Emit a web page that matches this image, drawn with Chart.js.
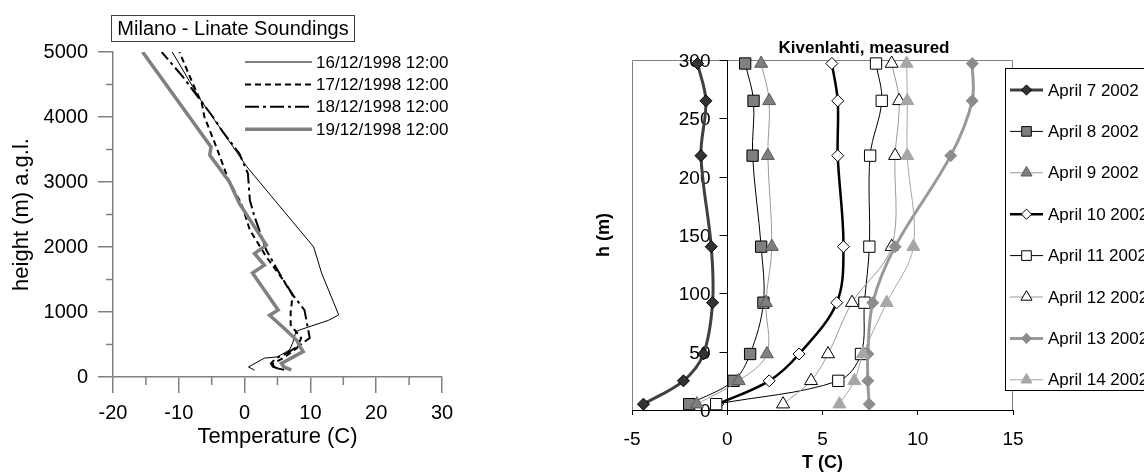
<!DOCTYPE html>
<html lang="en">
<head>
<meta charset="UTF-8">
<title>Temperature profiles</title>
<style>
    body { margin: 0; background: #fff; }
    #wrap { position: relative; width: 1144px; height: 474px; overflow: hidden; }
    canvas { position: absolute; top: 0; }
    #milano { left: 0; }
    #kiven { left: 500px; }
</style>
</head>
<body>
<div id="wrap">
    <canvas id="milano" width="500" height="474"></canvas>
    <canvas id="kiven" width="644" height="474"></canvas>
</div>
<script src="https://cdn.jsdelivr.net/npm/chart.js"></script>
<script>
// ---------- Milano - Linate soundings ----------
const soundingLabels = ['16/12/1998 12:00', '17/12/1998 12:00', '18/12/1998 12:00', '19/12/1998 12:00'];

const h16 = [105, 155, 290, 310, 415, 520, 700, 725, 870, 955, 1600, 2000, 3240, 4280, 5000];
const t16 = [1.5, 0.6, 3.0, 5.0, 6.8, 7.3, 7.8, 8.4, 12.7, 14.3, 11.7, 10.5, 0.3, -6.8, -11.0];

const h17 = [110, 140, 200, 300, 450, 600, 800, 1000, 1260, 1500, 1850, 2260, 2670, 3000, 3130, 3540, 4000, 4210, 4520, 5000];
const t17 = [6.0, 4.6, 4.2, 6.0, 8.0, 8.6, 7.0, 7.0, 7.3, 5.8, 3.3, 0.8, -0.5, -2.3, -2.8, -4.3, -6.1, -6.5, -7.9, -9.9];

const h18 = [130, 160, 210, 290, 360, 490, 600, 1030, 1260, 1540, 1950, 2470, 2720, 3130, 3440, 3770, 4000, 4620, 5000];
const t18 = [5.1, 4.3, 4.0, 4.8, 6.3, 8.4, 9.9, 9.1, 7.35, 5.6, 3.3, 1.5, 0.8, 0.5, -0.8, -3.3, -4.8, -9.4, -12.6];

const h19 = [108, 150, 210, 390, 470, 570, 770, 950, 1030, 1600, 1720, 1900, 2030, 2670, 3000, 3415, 3540, 5000];
const t19 = [7.1, 6.0, 5.6, 8.9, 8.4, 7.9, 5.8, 3.8, 5.1, 1.2, 3.0, 1.5, 3.3, -0.8, -2.3, -5.3, -5.1, -15.5];

const minorTempTicks = [-15, -5, 5, 15, 25];
const minorHeightTicks = [500, 1500, 2500, 3500, 4500];

// ---------- Kivenlahti mast ----------
const aprilLabels = ['April 7 2002', 'April 8 2002', 'April 9 2002', 'April 10 2002',
                     'April 11 2002', 'April 12 2002', 'April 13 2002', 'April 14 2002'];
const mastHeights = [5, 25, 48, 92, 140, 218, 265, 297];
const apr7  = [-4.4, -2.3, -1.25, -0.77, -0.84, -1.38, -1.12, -1.56];
const apr8  = [-2.0, 0.33, 1.2, 1.9, 1.78, 1.33, 1.38, 0.94];
const apr9  = [-1.6, 0.6, 2.08, 2.03, 2.34, 2.13, 2.2, 1.78];
const apr10 = [-0.5, 2.2, 3.77, 5.75, 6.1, 5.8, 5.8, 5.49];
const apr11 = [-0.58, 5.83, 7.02, 7.2, 7.46, 7.5, 8.11, 7.81];
const apr12 = [2.93, 4.4, 5.29, 6.55, 8.63, 8.81, 9.02, 8.63];
const apr13 = [7.45, 7.38, 7.38, 7.64, 8.81, 11.73, 12.86, 12.86];
const apr14 = [5.89, 6.67, 7.12, 8.37, 9.77, 9.45, 9.45, 9.42];
const mastTicks = [0, 50, 100, 150, 200, 250, 300];

Chart.defaults.font.family = 'Arial, "Liberation Sans", sans-serif';
Chart.defaults.color = '#000';

function pairs(temps, heights) {
    return temps.map((t, i) => ({ x: t, y: heights[i] }));
}

// ---------- left chart ----------
const soundingStyles = [
    { color: '#000', width: 1, dash: [] },
    { color: '#000', width: 2, dash: [6, 4] },
    { color: '#000', width: 2, dash: [14, 4, 3, 4] },
    { color: '#808080', width: 3.5, dash: [] }
];
const soundingData = [pairs(t16, h16), pairs(t17, h17), pairs(t18, h18), pairs(t19, h19)];

const milanoExtras = {
    id: 'milanoExtras',
    afterDraw(chart) {
        const ctx = chart.ctx;
        const xs = chart.scales.x, ys = chart.scales.y;
        const area = chart.chartArea;
        ctx.save();
        // minor ticks
        ctx.strokeStyle = '#808080';
        ctx.lineWidth = 1.5;
        minorTempTicks.forEach(v => {
            const px = xs.getPixelForValue(v);
            ctx.beginPath(); ctx.moveTo(px, area.bottom); ctx.lineTo(px, area.bottom + 8); ctx.stroke();
        });
        minorHeightTicks.forEach(v => {
            const py = ys.getPixelForValue(v);
            ctx.beginPath(); ctx.moveTo(area.left - 7, py); ctx.lineTo(area.left, py); ctx.stroke();
        });
        // title box
        ctx.strokeStyle = '#404040';
        ctx.lineWidth = 1;
        ctx.fillStyle = '#fff';
        ctx.fillRect(111.5, 15.5, 243, 26);
        ctx.strokeRect(111.5, 15.5, 243, 26);
        ctx.fillStyle = '#000';
        ctx.font = '20px Arial, "Liberation Sans", sans-serif';
        ctx.textAlign = 'center';
        ctx.textBaseline = 'middle';
        ctx.fillText('Milano - Linate Soundings', 233, 29);
        // legend
        ctx.font = '17px Arial, "Liberation Sans", sans-serif';
        ctx.textAlign = 'left';
        chart.data.datasets.forEach((ds, i) => {
            const y = 62 + i * 22.4;
            ctx.strokeStyle = ds.borderColor;
            ctx.lineWidth = ds.borderWidth;
            ctx.setLineDash(ds.borderDash);
            ctx.beginPath(); ctx.moveTo(245, y); ctx.lineTo(312, y); ctx.stroke();
            ctx.setLineDash([]);
            ctx.fillText(ds.label, 316, y + 1);
        });
        ctx.restore();
    }
};

new Chart(document.getElementById('milano'), {
    type: 'scatter',
    data: {
        datasets: soundingData.map((d, i) => ({
            label: soundingLabels[i],
            data: d,
            showLine: true,
            borderColor: soundingStyles[i].color,
            borderWidth: soundingStyles[i].width,
            borderDash: soundingStyles[i].dash,
            pointRadius: 0,
            tension: 0,
            order: 4 - i
        }))
    },
    options: {
        responsive: false,
        animation: false,
        layout: { padding: { left: 0, top: 52, right: 58, bottom: 0 } },
        plugins: { legend: { display: false }, tooltip: { enabled: false } },
        scales: {
            x: {
                type: 'linear', min: -20, max: 30,
                ticks: { stepSize: 10, font: { size: 20 }, padding: 8, color: '#000', callback: v => String(v) },
                grid: { drawOnChartArea: false, tickLength: 16, color: '#808080', lineWidth: 1.5 },
                border: { color: '#808080', width: 1.5 },
                title: { display: true, text: 'Temperature (C)', font: { size: 22 }, color: '#000', padding: { top: 0, bottom: 24 } },
                afterFit: s => { s.height = 97; }
            },
            y: {
                type: 'linear', min: 0, max: 5000,
                ticks: { stepSize: 1000, font: { size: 20 }, padding: 10, color: '#000', callback: v => String(v) },
                grid: { drawOnChartArea: false, tickLength: 15, color: '#808080', lineWidth: 1.5 },
                border: { color: '#808080', width: 1.5 },
                title: { display: true, text: 'height (m) a.g.l.', font: { size: 22 }, color: '#000', padding: { top: 9, bottom: 0 } },
                afterFit: s => { s.width = 113; }
            }
        }
    },
    plugins: [milanoExtras]
});

// ---------- right chart ----------
const aprilSeries = [apr7, apr8, apr9, apr10, apr11, apr12, apr13, apr14];
const aprilStyles = [
    { line: '#404040', width: 3, shape: 'rectRot', r: 6, fill: '#333333', border: '#000' },
    { line: '#000', width: 1, shape: 'rect', r: 8, fill: '#808080', border: '#000' },
    { line: '#999999', width: 1, shape: 'triangle', r: 7.5, fill: '#7f7f7f', border: '#595959' },
    { line: '#000', width: 2.5, shape: 'rectRot', r: 6, fill: '#fff', border: '#000' },
    { line: '#000', width: 1, shape: 'rect', r: 8, fill: '#fff', border: '#000' },
    { line: '#999999', width: 1, shape: 'triangle', r: 7.5, fill: '#fff', border: '#000' },
    { line: '#999999', width: 3, shape: 'rectRot', r: 6, fill: '#8c8c8c', border: '#8c8c8c' },
    { line: '#a6a6a6', width: 1, shape: 'triangle', r: 7.5, fill: '#a6a6a6', border: '#a6a6a6' }
];

function drawMarker(ctx, st, x, y, k) {
    const r = st.r * k;
    ctx.beginPath();
    if (st.shape === 'rectRot') {
        ctx.moveTo(x, y - r); ctx.lineTo(x + r, y); ctx.lineTo(x, y + r); ctx.lineTo(x - r, y);
    } else if (st.shape === 'rect') {
        const s = r * Math.SQRT1_2;
        ctx.rect(x - s, y - s, 2 * s, 2 * s);
    } else {
        ctx.moveTo(x, y - r);
        ctx.lineTo(x + r * 0.866, y + r * 0.5);
        ctx.lineTo(x - r * 0.866, y + r * 0.5);
    }
    ctx.closePath();
    ctx.fillStyle = st.fill;
    ctx.strokeStyle = st.border;
    ctx.lineWidth = 1;
    ctx.fill();
    ctx.stroke();
}

const kivenBack = {
    id: 'kivenBack',
    beforeDatasetsDraw(chart) {
        const ctx = chart.ctx;
        const xs = chart.scales.x, ys = chart.scales.y;
        const a = chart.chartArea;
        ctx.save();
        // plot frame
        ctx.strokeStyle = '#808080';
        ctx.lineWidth = 1;
        ctx.beginPath();
        ctx.moveTo(a.left + 0.5, a.bottom); ctx.lineTo(a.left + 0.5, a.top + 0.5);
        ctx.lineTo(a.right - 0.5, a.top + 0.5); ctx.lineTo(a.right - 0.5, a.bottom);
        ctx.stroke();
        // y axis crossing at T = 0
        const x0 = Math.round(xs.getPixelForValue(0)) + 0.5;
        ctx.strokeStyle = '#000';
        ctx.beginPath(); ctx.moveTo(x0, a.top); ctx.lineTo(x0, a.bottom); ctx.stroke();
        ctx.font = '19px Arial, "Liberation Sans", sans-serif';
        ctx.fillStyle = '#000';
        ctx.textAlign = 'right';
        ctx.textBaseline = 'middle';
        mastTicks.forEach(v => {
            const py = Math.round(ys.getPixelForValue(v)) + 0.5;
            ctx.beginPath(); ctx.moveTo(x0 - 8, py); ctx.lineTo(x0, py); ctx.stroke();
            ctx.fillText(String(v), x0 - 17, py + 1);
        });
        // chart title
        ctx.font = 'bold 17px Arial, "Liberation Sans", sans-serif';
        ctx.textAlign = 'center';
        ctx.fillText('Kivenlahti, measured', 364, 48);
        // y axis title
        ctx.translate(104, 235);
        ctx.rotate(-Math.PI / 2);
        ctx.font = 'bold 18px Arial, "Liberation Sans", sans-serif';
        ctx.fillText('h (m)', 0, 0);
        ctx.restore();
    },
    afterDraw(chart) {
        const ctx = chart.ctx;
        ctx.save();
        ctx.fillStyle = '#fff';
        ctx.fillRect(505.5, 68.5, 150, 322);
        ctx.strokeStyle = '#000';
        ctx.lineWidth = 1;
        ctx.strokeRect(505.5, 68.5, 150, 322);
        ctx.font = '17px Arial, "Liberation Sans", sans-serif';
        ctx.textAlign = 'left';
        ctx.textBaseline = 'middle';
        aprilLabels.forEach((lab, i) => {
            const st = aprilStyles[i];
            const y = 90 + i * 41.4;
            ctx.strokeStyle = st.line;
            ctx.lineWidth = st.width;
            ctx.beginPath(); ctx.moveTo(510, y); ctx.lineTo(543, y); ctx.stroke();
            drawMarker(ctx, st, 526.5, y, 0.85);
            ctx.fillStyle = '#000';
            ctx.fillText(lab, 548, y + 1);
        });
        ctx.restore();
    }
};

new Chart(document.getElementById('kiven'), {
    type: 'scatter',
    data: {
        datasets: aprilSeries.map((s, i) => ({
            label: aprilLabels[i],
            data: pairs(s, mastHeights),
            showLine: true,
            borderColor: aprilStyles[i].line,
            borderWidth: aprilStyles[i].width,
            tension: 0.35,
            pointStyle: aprilStyles[i].shape,
            pointRadius: aprilStyles[i].r,
            pointBackgroundColor: aprilStyles[i].fill,
            pointBorderColor: aprilStyles[i].border,
            pointBorderWidth: 1,
            clip: false,
            order: 8 - i
        }))
    },
    options: {
        responsive: false,
        animation: false,
        layout: { padding: { left: 132, top: 60, right: 131, bottom: 0 } },
        plugins: { legend: { display: false }, tooltip: { enabled: false } },
        scales: {
            x: {
                type: 'linear', min: -5, max: 15,
                ticks: { stepSize: 5, font: { size: 19 }, padding: 13, color: '#000' },
                grid: { drawOnChartArea: false, tickLength: 5, color: '#000', lineWidth: 1 },
                border: { color: '#000', width: 1 },
                title: { display: true, text: 'T (C)', font: { size: 18, weight: 'bold' }, color: '#000', padding: { top: 0, bottom: 0 } },
                afterFit: s => { s.height = 64; }
            },
            y: {
                type: 'linear', min: 0, max: 300, display: false,
                ticks: { stepSize: 50 }
            }
        }
    },
    plugins: [kivenBack]
});
</script>
</body>
</html>
